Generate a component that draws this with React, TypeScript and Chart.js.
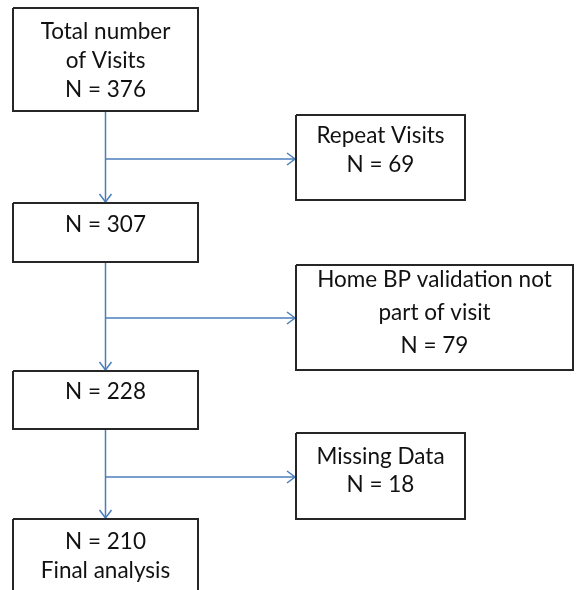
import React, { useEffect, useRef } from "react";
import { Chart, registerables } from "chart.js";

Chart.register(...registerables);

// ---- data ----
const stageCounts = [376, 307, 228, 210];
const stageTitles = [["Total number", "of Visits"], [], [], []];
const stageNotes = [[], [], [], ["Final analysis"]];
const exclusionCounts = [69, 79, 18];
const exclusionTitles = [["Repeat Visits"], ["Home BP validation not", "part of visit"], ["Missing Data"]];

// ---- layout (pixel space of 578 x 590) ----
const W = 578;
const H = 590;
const stageBoxes = [
  { x0: 13, x1: 198, y0: 8, y1: 111, ty: 32, lh: 29 },
  { x0: 13, x1: 198, y0: 203, y1: 262, ty: 225, lh: 29 },
  { x0: 13, x1: 198, y0: 371, y1: 429, ty: 392, lh: 29 },
  { x0: 13, x1: 198, y0: 519, y1: 600, ty: 542, lh: 29 },
];
const exclusionBoxes = [
  { x0: 296, x1: 465, y0: 115, y1: 200, ty: 136, lh: 29 },
  { x0: 296, x1: 573, y0: 265, y1: 370, ty: 280, lh: 33 },
  { x0: 296, x1: 465, y0: 433, y1: 519, ty: 457, lh: 28 },
];
const spineX = 105.5;
const branchY = [159, 318, 477];

const BLUE = "#4a7ebb";
const DARK = "#262626";
const FONT = "22.5px Lato, 'Open Sans', sans-serif";

function boxLines(t: string[], n: number, notes: string[]) {
  return [...t, `N = ${n}`, ...notes];
}

export default function App() {
  const ref = useRef<HTMLCanvasElement | null>(null);

  useEffect(() => {
    if (!ref.current) return;
    const datasets: any[] = [];
    const seg = (pts: { x: number; y: number }[], color: string, width: number) =>
      datasets.push({
        data: pts,
        showLine: true,
        borderColor: color,
        borderWidth: width,
        pointRadius: 0,
        fill: false,
        tension: 0,
      });
    const rect = (b: any) =>
      seg(
        [
          { x: b.x0, y: b.y0 },
          { x: b.x1, y: b.y0 },
          { x: b.x1, y: b.y1 },
          { x: b.x0, y: b.y1 },
          { x: b.x0, y: b.y0 },
        ],
        DARK,
        2
      );
    stageBoxes.forEach(rect);
    exclusionBoxes.forEach(rect);

    // vertical connectors with arrow heads
    for (let i = 0; i < stageBoxes.length - 1; i++) {
      const a = stageBoxes[i].y1;
      const b = stageBoxes[i + 1].y0;
      seg([{ x: spineX, y: a }, { x: spineX, y: b - 1 }], BLUE, 1.5);
      seg(
        [
          { x: spineX - 6, y: b - 9 },
          { x: spineX, y: b - 1 },
          { x: spineX + 6, y: b - 9 },
        ],
        BLUE,
        1.5
      );
      const y = branchY[i];
      const tx = exclusionBoxes[i].x0;
      seg([{ x: spineX, y }, { x: tx - 1, y }], BLUE, 1.5);
      seg(
        [
          { x: tx - 9, y: y - 6 },
          { x: tx - 1, y },
          { x: tx - 9, y: y + 6 },
        ],
        BLUE,
        1.5
      );
    }

    const textPlugin = {
      id: "boxText",
      afterDatasetsDraw(chart: any) {
        const { ctx, scales } = chart;
        const xs = scales.x;
        const ys = scales.y;
        ctx.save();
        ctx.fillStyle = "#111";
        ctx.font = FONT;
        ctx.textAlign = "center";
        ctx.textBaseline = "middle";
        const put = (b: any, lines: string[]) => {
          const cx = xs.getPixelForValue((b.x0 + b.x1) / 2);
          lines.forEach((l, k) => {
            ctx.fillText(l, cx, ys.getPixelForValue(b.ty + k * b.lh));
          });
        };
        stageBoxes.forEach((b, i) =>
          put(b, boxLines(stageTitles[i], stageCounts[i], stageNotes[i]))
        );
        exclusionBoxes.forEach((b, i) =>
          put(b, boxLines(exclusionTitles[i], exclusionCounts[i], []))
        );
        ctx.restore();
      },
    };

    const chart = new Chart(ref.current, {
      type: "scatter",
      data: { datasets },
      options: {
        animation: false,
        responsive: false,
        layout: { padding: 0 },
        plugins: { legend: { display: false }, tooltip: { enabled: false } },
        scales: {
          x: { type: "linear", min: 0, max: W, display: false },
          y: { type: "linear", min: 0, max: H, reverse: true, display: false },
        },
      },
      plugins: [textPlugin],
    });
    return () => chart.destroy();
  }, []);

  return (
    <div style={{ position: "fixed", left: 0, top: 0, width: W, height: H, background: "#fff" }}>
      <canvas ref={ref} width={W} height={H} style={{ display: "block" }} />
    </div>
  );
}
